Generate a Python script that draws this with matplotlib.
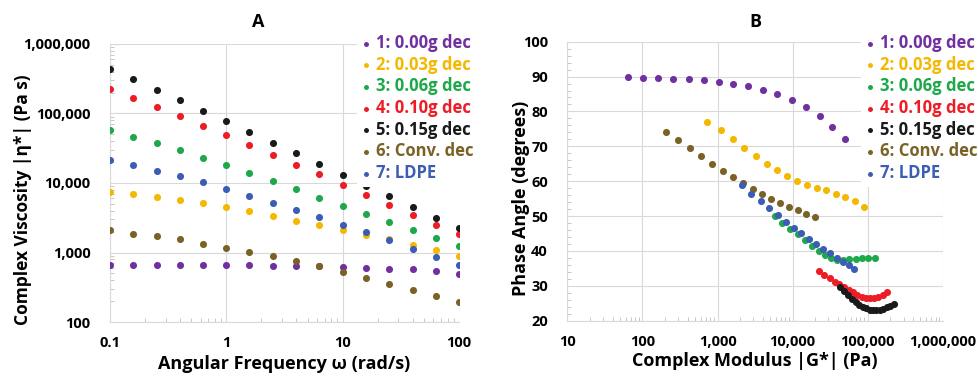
import matplotlib
matplotlib.use('Agg')
import matplotlib.pyplot as plt
from matplotlib.ticker import FuncFormatter, LogLocator, MultipleLocator, NullFormatter

plt.rcParams['font.family'] = ['Open Sans', 'DejaVu Sans']
plt.rcParams['font.weight'] = 'bold'
plt.rcParams['axes.labelweight'] = 'bold'

# Series names and colours
labels = ['1: 0.00g dec', '2: 0.03g dec', '3: 0.06g dec', '4: 0.10g dec',
          '5: 0.15g dec', '6: Conv. dec', '7: LDPE']
colors = ['#7030A0', '#F5B800', '#1DA84A', '#EE1C25', '#1A1A1A', '#7A6226', '#3B5DB5']

# Panel A: complex viscosity vs angular frequency
omega = [0.1, 0.158, 0.251, 0.398, 0.631, 1.0, 1.58, 2.51, 3.98, 6.31, 10.0, 15.8, 25.1, 39.8, 63.1, 100.0]
eta_000 = [655, 655, 655, 655, 655, 655, 655, 650, 645, 630, 625, 605, 580, 570, 540, 497]
eta_003 = [7380, 6900, 6320, 5720, 5130, 4490, 3930, 3370, 2880, 2470, 2090, 1770, 1540, 1300, 1080, 893]
eta_006 = [57700, 46200, 37100, 29400, 23000, 18100, 14000, 10700, 8150, 6180, 4690, 3600, 2760, 2090, 1600, 1240]
eta_010 = [222000, 165000, 124000, 91800, 66600, 48300, 35100, 25500, 18300, 13300, 9500, 6760, 4850, 3480, 2520, 1830]
eta_015 = [431000, 310000, 217000, 156000, 110000, 77000, 54000, 37900, 26600, 18700, 13100, 9200, 6400, 4500, 3150, 2230]
eta_conv = [2090, 1870, 1720, 1540, 1340, 1180, 1020, 883, 757, 634, 519, 430, 357, 292, 237, 194]
eta_ldpe = [21100, 17900, 15000, 12500, 10200, 8150, 6530, 5230, 4110, 3220, 2520, 1960, 1500, 1140, 863, 655]

# Panel B: phase angle vs complex modulus
g_000 = [65, 103, 163, 259, 415, 658, 1040, 1630, 2560, 4020, 6250, 9800, 15100, 23100, 33800, 50300]
d_000 = [89.9, 89.7, 89.5, 89.4, 89.3, 88.9, 88.5, 87.9, 87.2, 86.2, 84.9, 83.4, 81.4, 78.8, 75.6, 72.2]
g_003 = [730, 1100, 1590, 2270, 3210, 4500, 6250, 8500, 11600, 15600, 20900, 28100, 37400, 50500, 67900, 89500]
d_003 = [77.0, 74.6, 72.0, 69.6, 67.1, 65.0, 63.1, 61.4, 60.1, 59.0, 58.1, 57.4, 56.4, 55.5, 54.2, 52.7]
g_006 = [5800, 7300, 9300, 11700, 14500, 18100, 22200, 26900, 32400, 39000, 46900, 57000, 69300, 83200, 101000, 124000]
d_006 = [50.1, 47.9, 46.2, 44.8, 43.0, 41.3, 39.9, 38.8, 38.0, 37.5, 37.4, 37.6, 37.8, 37.9, 38.0, 38.1]
g_010 = [22200, 26100, 31100, 36500, 42000, 48300, 55600, 64000, 72800, 83900, 95000, 106800, 121700, 138500, 159000, 183000]
d_010 = [34.3, 33.2, 32.2, 31.2, 30.4, 29.6, 28.8, 28.1, 27.4, 26.9, 26.5, 26.4, 26.5, 26.9, 27.5, 28.3]
g_015 = [43100, 49000, 54500, 62100, 69400, 77000, 85600, 95100, 105900, 118000, 131000, 145400, 160600, 179100, 198800, 223000]
d_015 = [29.6, 28.4, 27.4, 26.3, 25.4, 24.6, 24.0, 23.5, 23.2, 23.0, 23.0, 23.1, 23.4, 23.8, 24.3, 24.8]
g_conv = [207, 299, 428, 607, 857, 1180, 1620, 2200, 2960, 3950, 5200, 6860, 9040, 11800, 15200, 19700]
d_conv = [74.0, 71.7, 69.4, 67.1, 65.0, 63.0, 61.1, 59.4, 57.8, 56.3, 54.9, 53.7, 52.6, 51.6, 50.7, 49.8]
g_ldpe = [2140, 2810, 3740, 4890, 6310, 8160, 10400, 13100, 16600, 20500, 25700, 31600, 38700, 47000, 56500, 65900]
d_ldpe = [59.0, 56.4, 54.2, 52.2, 50.3, 48.4, 46.7, 45.1, 43.5, 42.0, 40.6, 39.3, 38.0, 36.9, 35.9, 34.8]

eta_all = [eta_000, eta_003, eta_006, eta_010, eta_015, eta_conv, eta_ldpe]
g_all = [g_000, g_003, g_006, g_010, g_015, g_conv, g_ldpe]
d_all = [d_000, d_003, d_006, d_010, d_015, d_conv, d_ldpe]

grey = '#d9d9d9'


def comma(v, pos):
    if v < 1:
        return '%g' % v
    return '{:,.0f}'.format(v)


def style_axes(ax):
    for side in ['top', 'right']:
        ax.spines[side].set_visible(False)
    for side in ['left', 'bottom']:
        ax.spines[side].set_color(grey)
    ax.grid(True, which='major', color=grey, linewidth=0.8)
    ax.set_axisbelow(True)
    ax.tick_params(which='major', length=0, labelsize=10.5)
    ax.tick_params(axis='y', which='major', pad=14)
    ax.tick_params(axis='x', which='major', pad=10)
    ax.tick_params(which='minor', direction='in', length=3, color='#bfbfbf')


fig = plt.figure(figsize=(9.79, 3.76), dpi=100)

# Panel A
axA = fig.add_axes([0.1124, 0.1436, 0.3565, 0.7394])
for eta, c, lab in zip(eta_all, colors, labels):
    axA.scatter(omega, eta, s=26, color=c, label=lab, zorder=3, linewidths=0)
axA.set_xscale('log')
axA.set_yscale('log')
axA.set_xlim(0.1, 100)
axA.set_ylim(100, 1000000)
axA.xaxis.set_major_formatter(FuncFormatter(comma))
axA.yaxis.set_major_formatter(FuncFormatter(comma))
axA.xaxis.set_minor_locator(LogLocator(subs=range(2, 10)))
axA.yaxis.set_minor_locator(LogLocator(subs=range(2, 10)))
axA.xaxis.set_minor_formatter(NullFormatter())
axA.yaxis.set_minor_formatter(NullFormatter())
style_axes(axA)
axA.set_xlabel('Angular Frequency ω (rad/s)', fontsize=13, fontweight='bold')
axA.set_ylabel('Complex Viscosity |η*| (Pa s)', fontsize=12.5, fontweight='bold')
axA.xaxis.set_label_coords(0.5, -0.118)
axA.yaxis.set_label_coords(-0.2235, 0.44)

# Panel B
axB = fig.add_axes([0.5795, 0.1471, 0.3835, 0.742])
for g, d, c, lab in zip(g_all, d_all, colors, labels):
    axB.scatter(g, d, s=26, color=c, label=lab, zorder=3, linewidths=0)
axB.set_xscale('log')
axB.set_xlim(10, 1000000)
axB.set_ylim(20, 100)
axB.yaxis.set_major_locator(MultipleLocator(10))
axB.yaxis.set_minor_locator(MultipleLocator(2))
axB.xaxis.set_major_formatter(FuncFormatter(comma))
axB.xaxis.set_minor_locator(LogLocator(subs=range(2, 10)))
axB.xaxis.set_minor_formatter(NullFormatter())
style_axes(axB)
axB.set_xlabel('Complex Modulus |G*| (Pa)', fontsize=13, fontweight='bold')
axB.set_ylabel('Phase Angle (degrees)', fontsize=13, fontweight='bold')
axB.xaxis.set_label_coords(0.5, -0.113)
axB.yaxis.set_label_coords(-0.099, 0.44)

# Titles
fig.text(258 / 979, 1 - 22 / 376, 'A', ha='center', va='center', fontsize=13, fontweight='bold')
fig.text(755 / 979, 1 - 22 / 376, 'B', ha='center', va='center', fontsize=13, fontweight='bold')

# Legends (white box over the grid, coloured text)
for ax, left in [(axA, 357 / 979), (axB, 861 / 979)]:
    leg = ax.legend(loc='upper left', bbox_to_anchor=(left, 1 - 29 / 376),
                    bbox_transform=fig.transFigure, fontsize=12, frameon=True,
                    facecolor='white', edgecolor='none', framealpha=1,
                    handlelength=0.5, handletextpad=0.35, borderpad=0.3,
                    labelspacing=0.22, borderaxespad=0, markerscale=0.7)
    leg.set_zorder(5)
    for t, c in zip(leg.get_texts(), colors):
        t.set_color(c)

fig.savefig('out.png', dpi=100)
